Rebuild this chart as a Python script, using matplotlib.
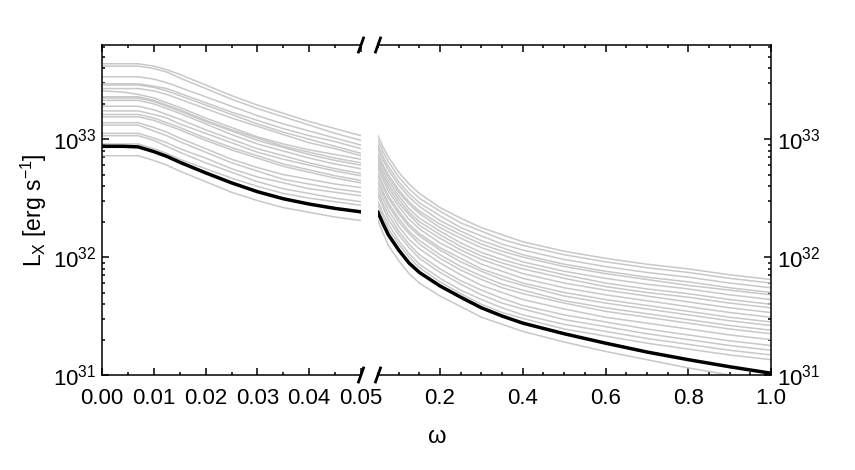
import numpy as np
import matplotlib
matplotlib.use("Agg")
import matplotlib.pyplot as plt
from matplotlib.ticker import FixedLocator, MultipleLocator, LogLocator, NullFormatter, FuncFormatter

plt.rcParams['font.family'] = ['Liberation Sans', 'DejaVu Sans']
plt.rcParams['mathtext.fontset'] = 'custom'
plt.rcParams['mathtext.rm'] = 'Liberation Sans'
plt.rcParams['mathtext.it'] = 'Liberation Sans:italic'

# omega grid on each side of the axis break
omega_left = [0.0, 0.004, 0.007, 0.01, 0.0125, 0.015, 0.02, 0.025, 0.03, 0.035, 0.04, 0.045, 0.05]
omega_right = [0.05, 0.0625, 0.075, 0.1, 0.125, 0.15, 0.2, 0.25, 0.3, 0.35, 0.4, 0.5, 0.6, 0.7, 0.8, 0.9, 1.0]

# log10(L_X) of the highlighted model
black_left = [32.94, 32.94, 32.935, 32.895, 32.855, 32.805, 32.715, 32.63, 32.555, 32.495, 32.45, 32.413, 32.384]
black_right = [32.38, 32.28, 32.19, 32.06, 31.95, 31.87, 31.755, 31.66, 31.57, 31.50, 31.44, 31.35, 31.27,
               31.195, 31.13, 31.07, 31.015]

# log10(L_X) of the other models (grey)
gray_left = [
    [33.64, 33.64, 33.64, 33.62, 33.59, 33.55, 33.46, 33.37, 33.29, 33.22, 33.15, 33.09, 33.03],
    [33.62, 33.62, 33.62, 33.60, 33.57, 33.52, 33.43, 33.34, 33.26, 33.19, 33.12, 33.05, 32.99],
    [33.53, 33.53, 33.53, 33.51, 33.48, 33.44, 33.36, 33.28, 33.20, 33.13, 33.07, 33.01, 32.95],
    [33.47, 33.47, 33.47, 33.45, 33.43, 33.39, 33.31, 33.23, 33.16, 33.09, 33.03, 32.98, 32.92],
    [33.46, 33.46, 33.46, 33.44, 33.41, 33.37, 33.29, 33.21, 33.13, 33.06, 33.00, 32.94, 32.88],
    [33.43, 33.43, 33.43, 33.41, 33.38, 33.34, 33.26, 33.18, 33.11, 33.04, 32.97, 32.92, 32.86],
    [33.41, 33.40, 33.38, 33.35, 33.31, 33.27, 33.18, 33.10, 33.02, 32.96, 32.91, 32.87, 32.83],
    [33.36, 33.36, 33.36, 33.33, 33.29, 33.25, 33.16, 33.08, 33.01, 32.94, 32.89, 32.84, 32.80],
    [33.35, 33.35, 33.35, 33.32, 33.28, 33.24, 33.15, 33.07, 32.99, 32.93, 32.87, 32.82, 32.78],
    [33.33, 33.33, 33.33, 33.30, 33.26, 33.22, 33.13, 33.04, 32.96, 32.90, 32.84, 32.79, 32.75],
    [33.28, 33.28, 33.28, 33.25, 33.21, 33.17, 33.08, 33.00, 32.92, 32.86, 32.80, 32.75, 32.71],
    [33.24, 33.24, 33.24, 33.21, 33.18, 33.13, 33.05, 32.97, 32.89, 32.83, 32.78, 32.73, 32.69],
    [33.21, 33.21, 33.21, 33.18, 33.14, 33.10, 33.01, 32.93, 32.86, 32.79, 32.74, 32.69, 32.65],
    [33.19, 33.19, 33.19, 33.16, 33.12, 33.08, 32.99, 32.91, 32.84, 32.77, 32.72, 32.67, 32.63],
    [33.14, 33.14, 33.14, 33.10, 33.06, 33.01, 32.92, 32.83, 32.76, 32.70, 32.66, 32.62, 32.59],
    [33.12, 33.12, 33.12, 33.07, 33.03, 32.98, 32.89, 32.80, 32.73, 32.66, 32.62, 32.58, 32.55],
    [33.05, 33.05, 33.05, 33.01, 32.97, 32.92, 32.84, 32.75, 32.68, 32.63, 32.58, 32.55, 32.52],
    [33.03, 33.03, 33.03, 32.99, 32.94, 32.89, 32.80, 32.72, 32.64, 32.58, 32.54, 32.50, 32.47],
    [32.96, 32.96, 32.96, 32.92, 32.88, 32.83, 32.75, 32.67, 32.60, 32.54, 32.50, 32.47, 32.44],
    [32.86, 32.86, 32.86, 32.82, 32.78, 32.73, 32.64, 32.55, 32.48, 32.42, 32.38, 32.34, 32.31],
]
gray_right = [
    [33.03, 32.93, 32.85, 32.72, 32.62, 32.54, 32.42, 32.33, 32.25, 32.19, 32.13, 32.05, 31.99, 31.94, 31.90, 31.85, 31.81],
    [32.99, 32.89, 32.81, 32.68, 32.58, 32.50, 32.39, 32.29, 32.22, 32.15, 32.10, 32.02, 31.96, 31.91, 31.87, 31.82, 31.78],
    [32.95, 32.85, 32.77, 32.64, 32.54, 32.46, 32.35, 32.25, 32.18, 32.11, 32.06, 31.98, 31.92, 31.87, 31.83, 31.78, 31.74],
    [32.92, 32.82, 32.74, 32.61, 32.51, 32.43, 32.31, 32.22, 32.14, 32.08, 32.02, 31.94, 31.88, 31.83, 31.79, 31.74, 31.70],
    [32.88, 32.78, 32.70, 32.57, 32.47, 32.39, 32.28, 32.19, 32.11, 32.05, 32.00, 31.92, 31.86, 31.81, 31.76, 31.72, 31.68],
    [32.86, 32.76, 32.68, 32.55, 32.45, 32.37, 32.25, 32.16, 32.08, 32.02, 31.96, 31.88, 31.82, 31.77, 31.73, 31.68, 31.64],
    [32.83, 32.73, 32.65, 32.52, 32.41, 32.33, 32.22, 32.12, 32.04, 31.98, 31.93, 31.85, 31.78, 31.73, 31.69, 31.64, 31.60],
    [32.80, 32.70, 32.62, 32.49, 32.38, 32.30, 32.19, 32.09, 32.01, 31.95, 31.90, 31.82, 31.75, 31.70, 31.66, 31.61, 31.57],
    [32.78, 32.68, 32.59, 32.46, 32.36, 32.27, 32.16, 32.06, 31.98, 31.92, 31.86, 31.78, 31.72, 31.67, 31.62, 31.57, 31.53],
    [32.75, 32.65, 32.56, 32.43, 32.32, 32.24, 32.12, 32.03, 31.94, 31.88, 31.82, 31.74, 31.68, 31.63, 31.58, 31.53, 31.49],
    [32.71, 32.61, 32.52, 32.39, 32.28, 32.20, 32.08, 31.99, 31.90, 31.84, 31.78, 31.70, 31.64, 31.59, 31.54, 31.49, 31.45],
    [32.69, 32.59, 32.50, 32.37, 32.26, 32.18, 32.06, 31.96, 31.88, 31.81, 31.76, 31.67, 31.61, 31.56, 31.51, 31.46, 31.42],
    [32.65, 32.55, 32.46, 32.33, 32.22, 32.14, 32.02, 31.92, 31.84, 31.77, 31.72, 31.63, 31.57, 31.52, 31.47, 31.42, 31.38],
    [32.63, 32.53, 32.44, 32.30, 32.20, 32.11, 31.99, 31.89, 31.81, 31.74, 31.69, 31.61, 31.54, 31.49, 31.44, 31.39, 31.35],
    [32.59, 32.49, 32.40, 32.26, 32.15, 32.07, 31.95, 31.85, 31.76, 31.70, 31.64, 31.56, 31.49, 31.44, 31.39, 31.34, 31.30],
    [32.55, 32.45, 32.36, 32.22, 32.11, 32.02, 31.90, 31.80, 31.72, 31.65, 31.59, 31.51, 31.45, 31.39, 31.34, 31.29, 31.25],
    [32.52, 32.42, 32.32, 32.19, 32.08, 31.99, 31.87, 31.77, 31.68, 31.61, 31.56, 31.47, 31.41, 31.35, 31.30, 31.25, 31.21],
    [32.47, 32.37, 32.28, 32.14, 32.03, 31.94, 31.82, 31.72, 31.64, 31.57, 31.51, 31.43, 31.37, 31.31, 31.26, 31.21, 31.17],
    [32.44, 32.34, 32.24, 32.11, 32.00, 31.91, 31.79, 31.69, 31.60, 31.53, 31.48, 31.39, 31.33, 31.27, 31.22, 31.17, 31.13],
    [32.31, 32.20, 32.10, 31.97, 31.86, 31.78, 31.67, 31.58, 31.49, 31.43, 31.37, 31.28, 31.20, 31.13, 31.06, 31.00, 30.95],
]

fig = plt.figure(figsize=(8.55, 4.70), dpi=100)
ax_l = fig.add_axes([102 / 855, 95 / 470, 259 / 855, 330 / 470])
ax_r = fig.add_axes([378 / 855, 95 / 470, 393 / 855, 330 / 470])

gris = '#c8c8c8'
for courbe in gray_left:
    ax_l.plot(omega_left, 10 ** np.array(courbe), color=gris, lw=1.1)
for courbe in gray_right:
    ax_r.plot(omega_right, 10 ** np.array(courbe), color=gris, lw=1.1)
ax_l.plot(omega_left, 10 ** np.array(black_left), color='black', lw=2.5, zorder=5)
ax_r.plot(omega_right, 10 ** np.array(black_right), color='black', lw=2.5, zorder=5)

def fmt_puissance(v, pos):
    return r'$\mathregular{10^{%d}}$' % round(np.log10(v))

for ax in (ax_l, ax_r):
    ax.set_yscale('log')
    ax.set_ylim(1e31, 6.3e33)
    ax.yaxis.set_major_locator(LogLocator(base=10))
    ax.yaxis.set_minor_locator(LogLocator(base=10, subs=np.arange(2, 10)))
    ax.yaxis.set_minor_formatter(NullFormatter())
    ax.yaxis.set_major_formatter(FuncFormatter(fmt_puissance))
    ax.tick_params(which='both', direction='in', top=True, bottom=True, labelsize=16, width=1.1)
    ax.tick_params(which='major', length=5)
    ax.tick_params(which='minor', length=2.5)
    ax.tick_params(axis='x', which='major', pad=9)
    ax.tick_params(axis='y', which='major', pad=4)
    for sp in ax.spines.values():
        sp.set_linewidth(1.1)

ax_l.set_xlim(0, 0.05)
ax_l.xaxis.set_major_locator(MultipleLocator(0.01))
ax_l.xaxis.set_minor_locator(MultipleLocator(0.005))
ax_l.xaxis.set_major_formatter(FuncFormatter(lambda v, p: '%.2f' % v))
ax_l.spines['right'].set_visible(False)
ax_l.tick_params(which='both', left=True, right=False)
ax_l.set_ylabel(r'L$_\mathregular{X}$ [erg s$^\mathregular{-1}$]', fontsize=16.5, labelpad=3)

ax_r.set_xlim(0.05, 1.0)
ax_r.xaxis.set_major_locator(FixedLocator([0.2, 0.4, 0.6, 0.8, 1.0]))
ax_r.xaxis.set_minor_locator(MultipleLocator(0.05))
ax_r.xaxis.set_major_formatter(FuncFormatter(lambda v, p: '%.1f' % v))
ax_r.spines['left'].set_visible(False)
ax_r.tick_params(which='both', left=False, right=True, labelleft=False, labelright=True)

# marques de coupure de l'axe
dy = 7 / 330
for ax, xb, dx in ((ax_l, 1.0, 2.5 / 259), (ax_r, 0.0, 2.5 / 393)):
    for yb in (0.0, 1.0):
        ax.plot([xb - dx, xb + dx], [yb - dy, yb + dy], transform=ax.transAxes,
                color='black', lw=2.0, clip_on=False, zorder=10)

fig.text(437 / 855, 1 - 437 / 470, 'ω', ha='center', va='center', fontsize=17)

fig.savefig('out.png', dpi=100)
